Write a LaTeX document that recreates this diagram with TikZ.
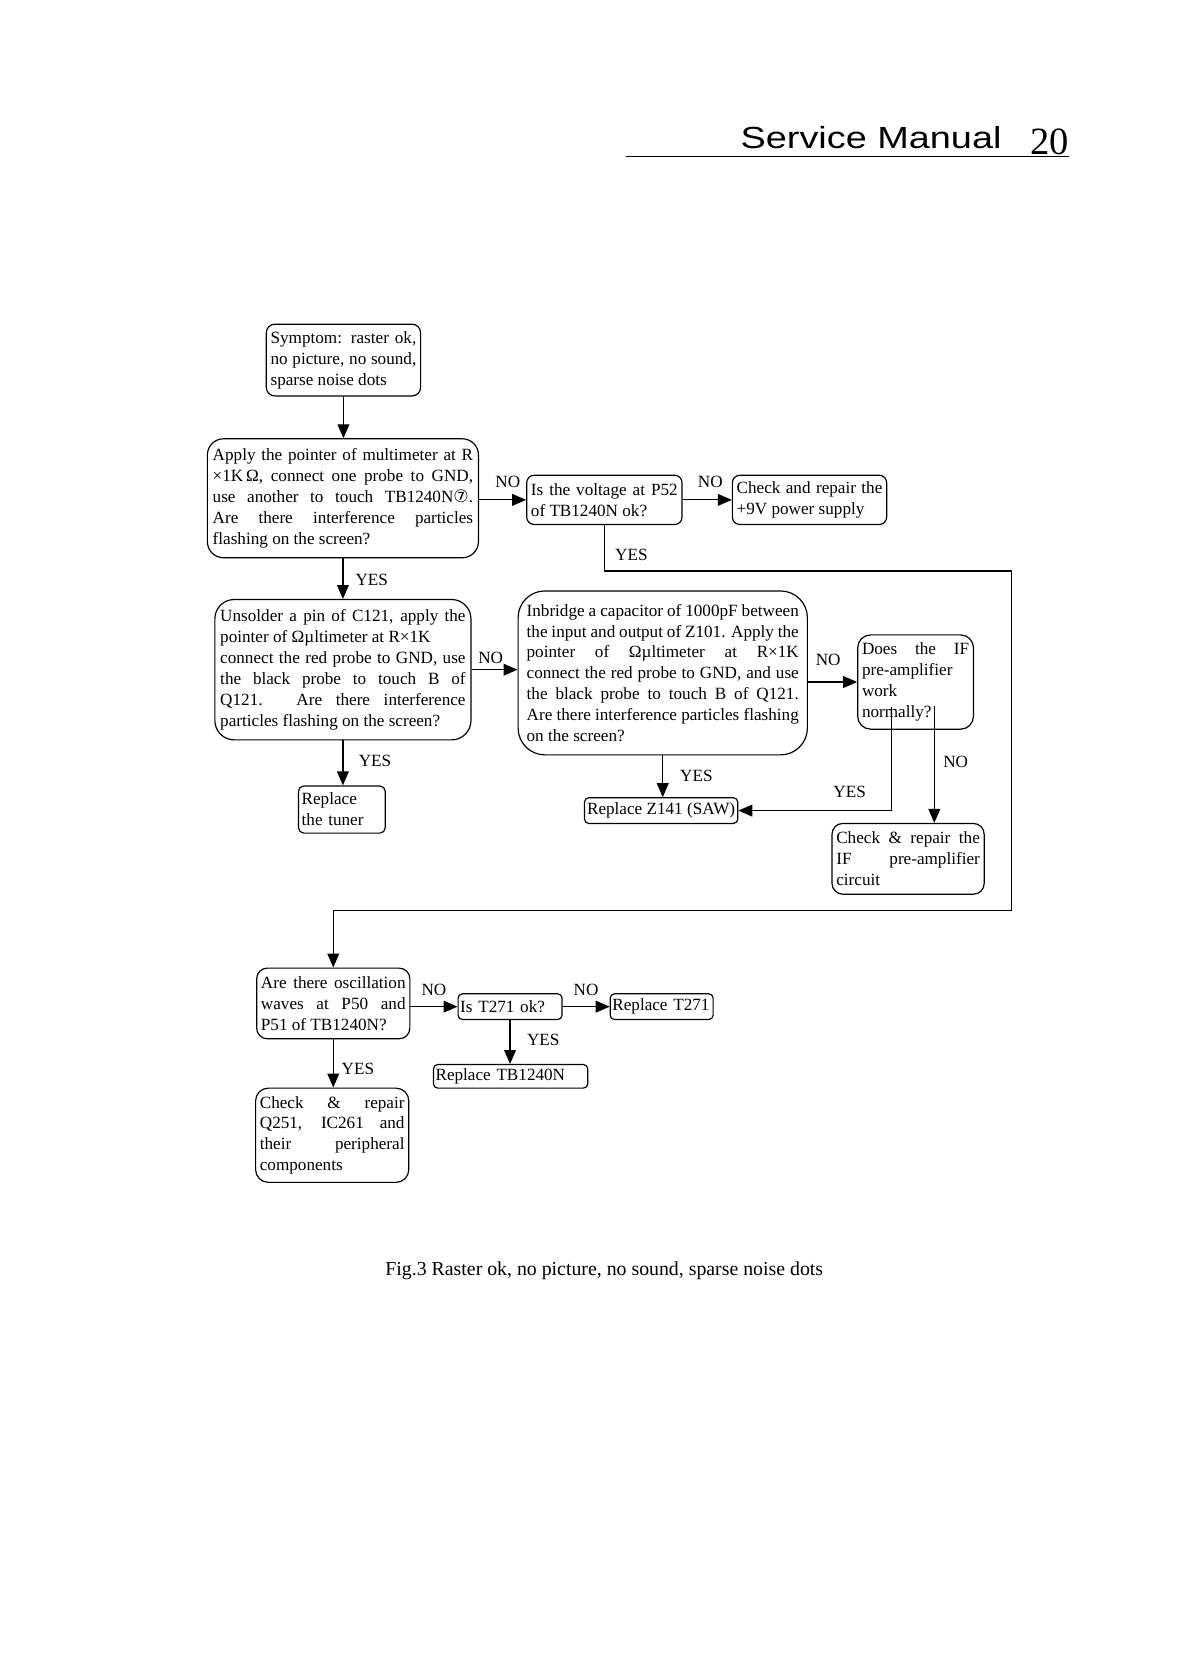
\documentclass[tikz,border=0pt]{standalone}
\usepackage{fontspec}
\setmainfont{Liberation Serif}
\newfontfamily\headfont{Liberation Sans}
\newfontfamily\symfont{DejaVu Sans}
\usetikzlibrary{arrows.meta}

\tikzset{
  box/.style={draw, line width=1.1pt, rounded corners=6pt, anchor=north west,
    align=justify, inner xsep=4pt, inner ysep=2pt,
    font=\fontsize{16}{19.5}\selectfont},
  lbl/.style={font=\fontsize{16}{19.5}\selectfont, inner sep=0pt},
  arr/.style={line width=1.1pt, -{Triangle[length=13pt, width=11pt]}},
}

\begin{document}
\begin{tikzpicture}[x=1pt, y=-1pt]
    % --- Page ---
    \useasboundingbox (0,0) rectangle (1110,1568);
    \fill[white] (0,0) rectangle (1110,1568);

    % --- Header ---
    \node[anchor=base east, inner sep=0pt, font=\headfont\fontsize{28.5}{30}\selectfont]
        (title) at (935,139) {\scalebox{1.24}[1]{Service Manual}};
    \node[anchor=base east, inner sep=0pt, font=\fontsize{36}{38}\selectfont]
        (page) at (998,144) {20};
    \coordinate (ruleL) at (584,146);
    \coordinate (ruleR) at (998,146);
    \draw[line width=1.4pt] (ruleL) -- (ruleR);

    % --- Boxes, first part ---
    \node[box, rounded corners=8pt, minimum width=144pt, minimum height=67pt, text width=136pt]
        (sym) at (248,302) {Symptom: raster ok,\linebreak no picture, no sound,\linebreak sparse noise dots};
    \node[box, rounded corners=15pt, inner xsep=5pt, minimum width=253pt, minimum height=111pt, text width=243pt]
        (apply) at (193,409) {Apply the pointer of multimeter at R\linebreak
        ×1K\,Ω, connect one probe to GND,\linebreak
        use another to touch TB1240N{\symfont ⑦}.\linebreak
        Are there interference particles\linebreak
        flashing on the screen?};
    \node[box, rounded corners=7pt, minimum width=145pt, minimum height=46pt, text width=137pt]
        (volt) at (491,443) {Is the voltage at P52\linebreak of TB1240N ok?};
    \node[box, rounded corners=7pt, minimum width=144pt, minimum height=46pt, text width=136pt]
        (pwr) at (683,443) {Check and repair the\linebreak +9V power supply};

    % --- Boxes, second part ---
    \node[box, rounded corners=18pt, inner xsep=5pt, minimum width=239pt, minimum height=131pt, text width=229pt]
        (unsol) at (200,559) {Unsolder a pin of C121, apply the\linebreak
        pointer of Ωµltimeter at R×1K\\
        connect the red probe to GND, use\linebreak
        the black probe to touch B of\linebreak
        Q121. Are there interference\linebreak
        particles flashing on the screen?};
    \node[box, rounded corners=25pt, inner xsep=8pt, minimum width=270pt, minimum height=153pt, text width=254pt]
        (inbr) at (483,551) {Inbridge a capacitor of 1000pF between\linebreak
        the input and output of Z101. Apply the\linebreak
        pointer of Ωµltimeter at R×1K\linebreak
        connect the red probe to GND, and use\linebreak
        the black probe to touch B of Q121.\linebreak
        Are there interference particles flashing\linebreak
        on the screen?};
    \node[box, rounded corners=12pt, minimum width=108pt, minimum height=88pt, text width=100pt]
        (ifq) at (800,592) {Does the IF\linebreak pre-amplifier\\ work\\ normally?};
    \node[box, rounded corners=5pt, inner xsep=3pt, minimum width=81pt, minimum height=44pt, text width=75pt, align=left]
        (tuner) at (278,733) {Replace\\ the tuner};
    \node[box, rounded corners=4pt, inner xsep=1.5pt, minimum width=143pt, minimum height=24pt, align=left]
        (z141) at (545,744) {Replace Z141 (SAW)};
    \node[box, rounded corners=10pt, minimum width=142pt, minimum height=66pt, text width=134pt]
        (ifrep) at (776,768) {Check \& repair the\linebreak IF pre-amplifier\linebreak circuit};

    % --- Boxes, third part ---
    \node[box, rounded corners=10pt, minimum width=143pt, minimum height=66pt, text width=135pt]
        (osc) at (239,903) {Are there oscillation\linebreak waves at P50 and\linebreak P51 of TB1240N?};
    \node[box, rounded corners=4pt, inner xsep=2pt, minimum width=97pt, minimum height=24pt, text width=93pt, align=left]
        (t271) at (427,927) {Is T271 ok?};
    \node[box, rounded corners=4pt, inner xsep=2pt, minimum width=96pt, minimum height=24pt, text width=92pt, align=left]
        (rt271) at (569,927) {Replace T271};
    \node[box, rounded corners=4pt, inner xsep=2pt, minimum width=144pt, minimum height=22pt, text width=140pt, align=left]
        (rtb) at (404,993) {Replace TB1240N};
    \node[box, rounded corners=12pt, minimum width=143pt, minimum height=88pt, text width=135pt]
        (q251) at (238,1015) {Check \& repair\linebreak Q251, IC261 and\linebreak their peripheral\linebreak components};

    % --- Corners of the long YES line ---
    \coordinate (rt) at (944,533);
    \coordinate (rb) at (944,850);
    % the two lines start inside the "Does the IF" box
    \coordinate (yesin) at (832,660);
    \coordinate (noin) at (872,659);

    % --- Connectors ---
    \draw[arr] (sym.south) -- (sym.south |- apply.north);
    \draw[arr] (apply.east |- volt.west) -- (volt.west);
    \draw[arr] (volt.east) -- (pwr.west);
    \draw[arr] (volt.south) |- (rt) -- (rb) -| (osc.north);
    \draw[arr] (apply.south) -- (unsol.north);
    \draw[arr] (unsol.east) -- (unsol.east -| inbr.west);
    \draw[arr] (unsol.south) -- (unsol.south |- tuner.north);
    \draw[arr] (inbr.east |- ifq.west) -- (ifq.west);
    \draw[arr] (inbr.south) -- (inbr.south |- z141.north);
    \draw[arr] (yesin) |- (z141.east);
    \draw[arr] (noin) -- (noin |- ifrep.north);
    \draw[arr] (osc.east |- t271.west) -- (t271.west);
    \draw[arr] (t271.east) -- (rt271.west);
    \draw[arr] (t271.south) -- (t271.south |- rtb.north);
    \draw[arr] (osc.south) -- (osc.south |- q251.north);

    % --- Labels ---
    \node[lbl] (no1) at (474,450) {NO};
    \node[lbl] (no2) at (663,450) {NO};
    \node[lbl, anchor=west] (yes1) at (574,518) {YES};
    \node[lbl] (yes2) at (347,541) {YES};
    \node[lbl] (no3) at (458,614) {NO};
    \node[lbl] (yes3) at (350,710) {YES};
    \node[lbl] (no4) at (773,616) {NO};
    \node[lbl] (yes4) at (650,724) {YES};
    \node[lbl] (yes5) at (793,739) {YES};
    \node[lbl] (no5) at (892,711) {NO};
    \node[lbl] (no6) at (405,924) {NO};
    \node[lbl] (no7) at (547,924) {NO};
    \node[lbl] (yes6) at (507,971) {YES};
    \node[lbl] (yes7) at (334,998) {YES};

    % --- Caption ---
    \node[anchor=base, inner sep=0pt, font=\fontsize{18.5}{20}\selectfont]
        (cap) at (564,1190) {Fig.3 Raster ok, no picture, no sound, sparse noise dots};
\end{tikzpicture}
\end{document}
